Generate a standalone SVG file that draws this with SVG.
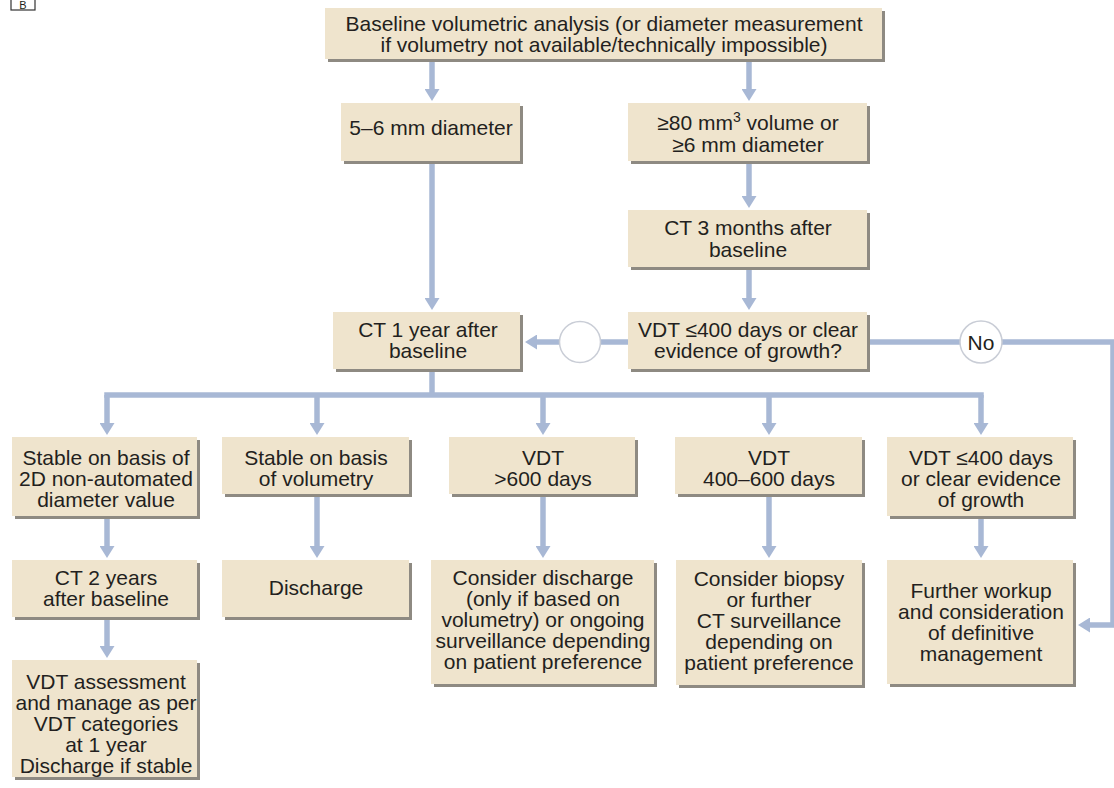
<svg xmlns="http://www.w3.org/2000/svg" width="1114" height="788" viewBox="0 0 1114 788">
<defs>
<style>
.box{fill:#efe4cd}
.sh{fill:#8e8a82}
.t{font-family:"Liberation Sans",Arial,sans-serif;font-size:21px;fill:#231f20;text-anchor:middle}
.c{fill:none;stroke:#a8b8d5;stroke-width:5.5}
.a{fill:none;stroke:#a8b8d5;stroke-width:5.5;marker-end:url(#ah)}
.circ{fill:#ffffff;stroke:#c9cdd6;stroke-width:1.5}
</style>
<marker id="ah" markerUnits="userSpaceOnUse" markerWidth="12" markerHeight="15" viewBox="0 0 12 15" refX="0" refY="7.5" orient="auto">
<path d="M0,0 L12,7.5 L0,15 z" fill="#a8b8d5"/>
</marker>
</defs>
<rect width="1114" height="788" fill="#ffffff"/>

<g id="label-B">
<rect x="11" y="-3" width="24" height="13" fill="#ffffff" stroke="#333333" stroke-width="1.2"/>
<text x="23" y="8.5" style="font-family:'Liberation Sans',Arial,sans-serif;font-size:11px;fill:#231f20;text-anchor:middle">B</text>
</g>

<g id="connectors">
<path class="a" d="M432,62 V89"/>
<path class="a" d="M749,62 V89"/>
<path class="a" d="M432,164 V298"/>
<path class="a" d="M749,164 V196"/>
<path class="a" d="M749,270 V298"/>
<path class="c" d="M628,342 H600"/>
<path class="a" d="M560,342 H537"/>
<path class="c" d="M870,342 H960"/>
<path class="a" d="M1002,342 H1113 V625 H1090"/>
<path class="c" d="M432,372 V395"/>
<path class="c" d="M104.25,395 H983.75"/>
<path class="a" d="M107,395 V423"/>
<path class="a" d="M317,395 V423"/>
<path class="a" d="M543,395 V423"/>
<path class="a" d="M769,395 V423"/>
<path class="a" d="M981,395 V423"/>
<path class="a" d="M107,519 V546"/>
<path class="a" d="M317,497 V546"/>
<path class="a" d="M543,497 V546"/>
<path class="a" d="M769,497 V546"/>
<path class="a" d="M981,519 V546"/>
<path class="a" d="M107,620 V646"/>
</g>

<g id="yes-circle"><circle class="circ" cx="580" cy="342" r="20.5"/></g>
<g id="no-circle"><circle class="circ" cx="981" cy="342" r="21"/><text class="t" x="981" y="349.5">No</text></g>

<g id="baseline">
<rect class="sh" x="328" y="11" width="557" height="51"/>
<rect class="box" x="325" y="8" width="557" height="51"/>
<text class="t" x="604" y="31">Baseline volumetric analysis (or diameter measurement</text>
<text class="t" x="604" y="52">if volumetry not available/technically impossible)</text>
</g>

<g id="small-nodule">
<rect class="sh" x="344" y="106" width="179" height="58"/>
<rect class="box" x="341" y="103" width="179" height="58"/>
<text class="t" x="431" y="135">5–6 mm diameter</text>
</g>

<g id="large-nodule">
<rect class="sh" x="631" y="106" width="239" height="58"/>
<rect class="box" x="628" y="103" width="239" height="58"/>
<text class="t" x="748" y="130">≥80 mm<tspan dy="-8" font-size="14">3</tspan><tspan dy="8"> volume or</tspan></text>
<text class="t" x="748" y="152">≥6 mm diameter</text>
</g>

<g id="ct-3-months">
<rect class="sh" x="631" y="213" width="239" height="57"/>
<rect class="box" x="628" y="210" width="239" height="57"/>
<text class="t" x="748" y="235">CT 3 months after</text>
<text class="t" x="748" y="257">baseline</text>
</g>

<g id="vdt-question">
<rect class="sh" x="631" y="315" width="239" height="57"/>
<rect class="box" x="628" y="312" width="239" height="57"/>
<text class="t" x="748" y="337">VDT ≤400 days or clear</text>
<text class="t" x="748" y="358">evidence of growth?</text>
</g>

<g id="ct-1-year">
<rect class="sh" x="336" y="315" width="187" height="57"/>
<rect class="box" x="333" y="312" width="187" height="57"/>
<text class="t" x="428" y="337">CT 1 year after</text>
<text class="t" x="428" y="358">baseline</text>
</g>

<g id="stable-2d">
<rect class="sh" x="15" y="440" width="185" height="79"/>
<rect class="box" x="12" y="437" width="185" height="79"/>
<text class="t" x="106" y="465">Stable on basis of</text>
<text class="t" x="106" y="486">2D non-automated</text>
<text class="t" x="106" y="507">diameter value</text>
</g>

<g id="stable-volumetry">
<rect class="sh" x="225" y="440" width="187" height="57"/>
<rect class="box" x="222" y="437" width="187" height="57"/>
<text class="t" x="316" y="465">Stable on basis</text>
<text class="t" x="316" y="486">of volumetry</text>
</g>

<g id="vdt-600">
<rect class="sh" x="452" y="440" width="186" height="57"/>
<rect class="box" x="449" y="437" width="186" height="57"/>
<text class="t" x="543" y="465">VDT</text>
<text class="t" x="543" y="486">&gt;600 days</text>
</g>

<g id="vdt-400-600">
<rect class="sh" x="678" y="440" width="187" height="57"/>
<rect class="box" x="675" y="437" width="187" height="57"/>
<text class="t" x="769" y="465">VDT</text>
<text class="t" x="769" y="486">400–600 days</text>
</g>

<g id="vdt-400">
<rect class="sh" x="890" y="440" width="186" height="79"/>
<rect class="box" x="887" y="437" width="186" height="79"/>
<text class="t" x="981" y="465">VDT ≤400 days</text>
<text class="t" x="981" y="486">or clear evidence</text>
<text class="t" x="981" y="507">of growth</text>
</g>

<g id="ct-2-years">
<rect class="sh" x="15" y="563" width="185" height="57"/>
<rect class="box" x="12" y="560" width="185" height="57"/>
<text class="t" x="106" y="585">CT 2 years</text>
<text class="t" x="106" y="606">after baseline</text>
</g>

<g id="discharge">
<rect class="sh" x="225" y="563" width="187" height="57"/>
<rect class="box" x="222" y="560" width="187" height="57"/>
<text class="t" x="316" y="595">Discharge</text>
</g>

<g id="consider-discharge">
<rect class="sh" x="434" y="563" width="223" height="124"/>
<rect class="box" x="431" y="560" width="223" height="124"/>
<text class="t" x="543" y="585">Consider discharge</text>
<text class="t" x="543" y="606">(only if based on</text>
<text class="t" x="543" y="627">volumetry) or ongoing</text>
<text class="t" x="543" y="648">surveillance depending</text>
<text class="t" x="543" y="669">on patient preference</text>
</g>

<g id="consider-biopsy">
<rect class="sh" x="679" y="563" width="186" height="125"/>
<rect class="box" x="676" y="560" width="186" height="125"/>
<text class="t" x="769" y="586">Consider biopsy</text>
<text class="t" x="769" y="607">or further</text>
<text class="t" x="769" y="628">CT surveillance</text>
<text class="t" x="769" y="649">depending on</text>
<text class="t" x="769" y="670">patient preference</text>
</g>

<g id="further-workup">
<rect class="sh" x="890" y="563" width="186" height="124"/>
<rect class="box" x="887" y="560" width="186" height="124"/>
<text class="t" x="981" y="598">Further workup</text>
<text class="t" x="981" y="619">and consideration</text>
<text class="t" x="981" y="640">of definitive</text>
<text class="t" x="981" y="661">management</text>
</g>

<g id="vdt-assessment">
<rect class="sh" x="15" y="663" width="185" height="117"/>
<rect class="box" x="12" y="660" width="185" height="117"/>
<text class="t" x="106" y="689">VDT assessment</text>
<text class="t" x="106" y="710">and manage as per</text>
<text class="t" x="106" y="731">VDT categories</text>
<text class="t" x="106" y="752">at 1 year</text>
<text class="t" x="106" y="773">Discharge if stable</text>
</g>
</svg>
